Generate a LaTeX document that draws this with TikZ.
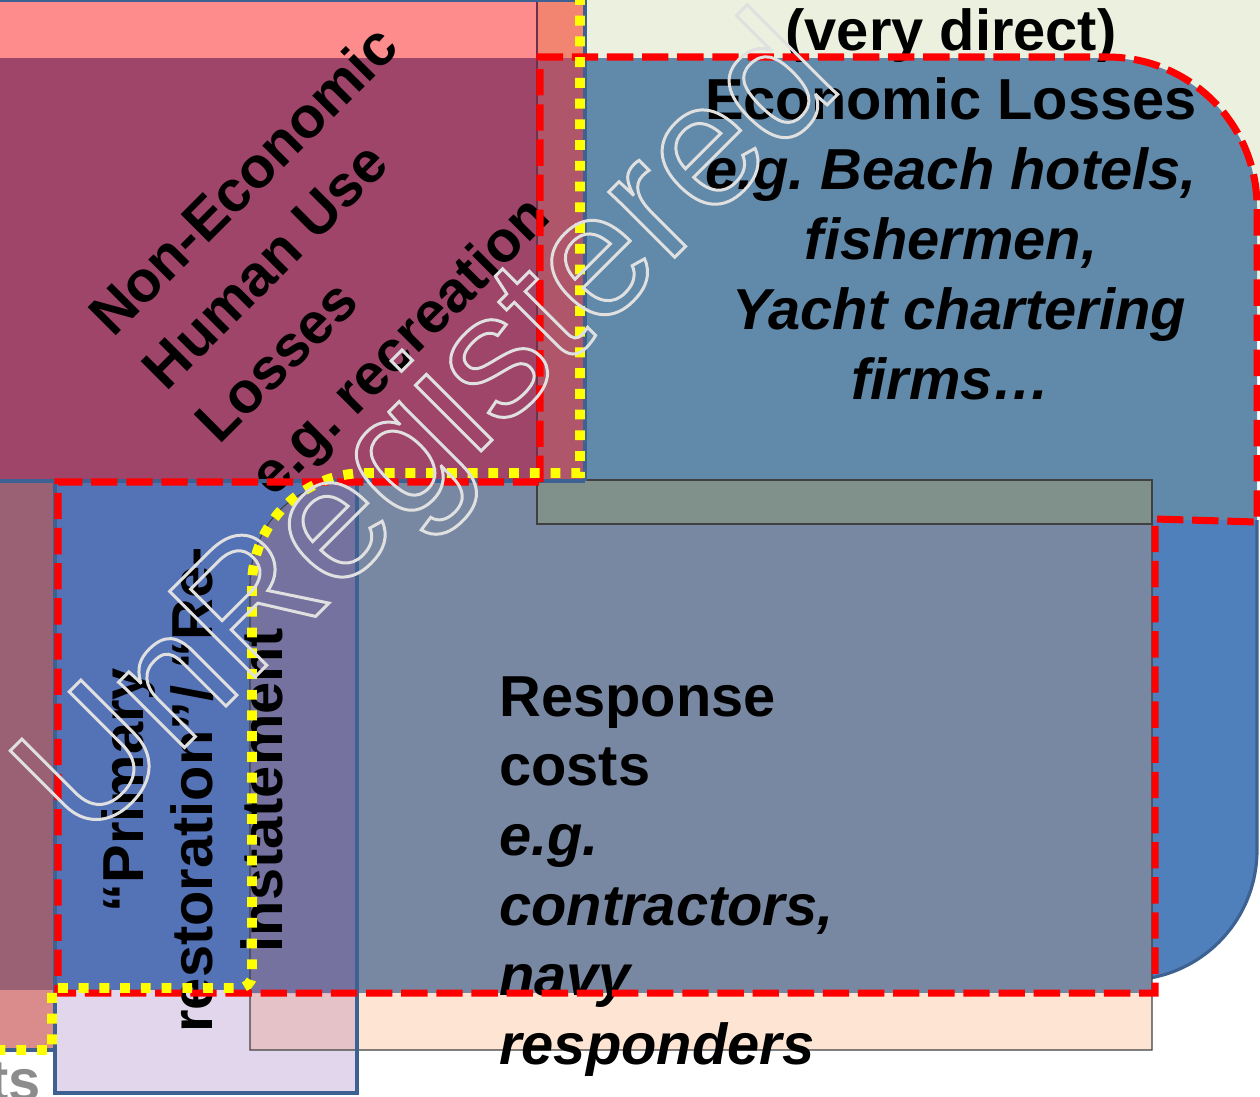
\documentclass[tikz,border=0pt]{standalone}
\usepackage{fontspec}
\setmainfont{Liberation Sans}
\frenchspacing
\usetikzlibrary{positioning}
\definecolor{palegreen}{RGB}{235,241,222}
\definecolor{pinkstrip}{RGB}{255,140,140}
\definecolor{salmonstrip}{RGB}{242,132,114}
\definecolor{maroonfill}{RGB}{158,69,105}
\definecolor{maroonlight}{RGB}{176,86,106}
\definecolor{steelfill}{RGB}{97,137,169}
\definecolor{greygreen}{RGB}{127,145,138}
\definecolor{greyblue}{RGB}{120,136,162}
\definecolor{purpleblue}{RGB}{118,114,160}
\definecolor{primblue}{RGB}{84,114,182}
\definecolor{mauvefill}{RGB}{154,96,115}
\definecolor{salmonfill}{RGB}{218,140,140}
\definecolor{peachfill}{RGB}{253,228,211}
\definecolor{rosepink}{RGB}{229,193,200}
\definecolor{lavenderfill}{RGB}{226,214,236}
\definecolor{brightblue}{RGB}{79,128,188}
\definecolor{edgeblue}{RGB}{61,97,145}
\definecolor{dashred}{RGB}{255,0,0}
\definecolor{dotyellow}{RGB}{255,255,0}

\begin{document}
\begin{tikzpicture}[x=0.02cm, y=-0.02cm,
    lbl/.style={inner sep=0pt, text=black, font=\fontsize{32.9}{39.7}\selectfont\bfseries},
    edge/.style={edgeblue, line width=2.8pt},
    thinedge/.style={black!75, line width=0.6pt},
    reddash/.style={dashred, line width=4pt, dash pattern=on 15pt off 5pt},
    yellowdot/.style={dotyellow, line width=5.6pt, dash pattern=on 5.6pt off 6.2pt}
]
    \useasboundingbox (0,0) rectangle (1260,1096);
    \clip (0,0) rectangle (1260,1096);
    % fills, back to front
    \fill[white] (0,0) rectangle (1260,1096);
    \fill[palegreen] (585,0) rectangle (1260,320);
    \fill[pinkstrip] (0,0) rectangle (537,58);
    \fill[salmonstrip] (537,0) rectangle (585,58);
    \fill[maroonfill] (0,58) rectangle (537,480);
    \fill[maroonlight] (537,58) rectangle (585,480);
    \draw[maroonfill!70!black, line width=0.6pt] (537,0) -- (537,480);
    \fill[steelfill] (585,58) -- (1107,58) .. controls (1190,58) and (1257,125) .. (1257,208)
        -- (1257,524) -- (585,524) -- cycle;
    \fill[brightblue] (1100,520) -- (1257,520) -- (1257,850)
        .. controls (1257,922) and (1199,980) .. (1127,980) -- (1100,980) -- cycle;
    \draw[edgeblue, line width=1.8pt] (1257,520) -- (1257,850)
        .. controls (1257,922) and (1199,980) .. (1127,980);
    \fill[greyblue] (357,480) rectangle (1152,993);
    \fill[peachfill] (357,993) rectangle (1152,1050);
    \fill[lavenderfill] (55,990) rectangle (357,1093);
    \fill[rosepink] (250,993) rectangle (357,1050);
    \fill[primblue] (55,480) rectangle (357,990);
    \fill[purpleblue] (357,480) -- (355,480) .. controls (295,480) and (250,525) .. (250,585)
        -- (250,993) -- (357,993) -- cycle;
    \draw[thinedge] (250,1050) -- (250,585) .. controls (250,525) and (295,480) .. (355,480)
        -- (1152,480) -- (1152,1050) -- cycle;
    \fill[greygreen] (537,480) rectangle (1152,524);
    \draw[thinedge] (537,480) rectangle (1152,524);
    \fill[mauvefill] (0,480) rectangle (55,990);
    \fill[salmonfill] (0,990) rectangle (55,1050);

    % labels
    \node[lbl, rotate=45, align=left, anchor=north west,
          font=\fontsize{32.9}{43}\selectfont\bfseries] (noneco) at (83,309)
        {Non-Economic\\Human Use\\Losses\\e.g. recreation};
    \node[lbl, align=center, anchor=north] (econ) at (951,8)
        {(very direct)\\Economic Losses\\\textit{e.g. Beach hotels,}\\\textit{fishermen,}\\\textit{\ Yacht chartering}\\\textit{firms…}};
    \node[lbl, align=left, anchor=north west] (resp) at (499,676)
        {Response\\costs\\\textit{e.g.}\\\textit{contractors,}\\\textit{navy}\\\textit{responders}};
    \node[lbl, rotate=90, align=center, anchor=north] (prim) at (101,790)
        {“Primary\\restoration”/ “Re-\\instatement};
    \node[lbl, text=black!45, anchor=base east] (cut) at (41,1100) {ts};

    % outlines
    \draw[edge] (0,0) -- (585,0) -- (585,481);
    \draw[edge] (0,481) -- (585,481);
    \draw[edge] (55,480) -- (55,1093) -- (357,1093) -- (357,480);
    \draw[edge] (0,1050) -- (55,1050);
    \draw[reddash] (540,482) -- (540,57) -- (1107,57) .. controls (1190,57) and (1257,124) .. (1257,207)
        -- (1257,522) -- (1155,519) -- (1155,993) -- (58,993) -- (58,482) -- cycle;
    \draw[yellowdot] (580,-5) -- (580,473) -- (365,473) .. controls (303,473) and (252,523) .. (252,585)
        -- (252,975) .. controls (252,983) and (246,988) .. (238,988) -- (52,988) -- (52,1050) -- (-5,1050);

    % watermark
    \node[rotate=45, anchor=base, inner sep=0pt, text=white!88!black,
          font=\fontsize{100}{100}\selectfont] (mark) at (466,466)
        {\special{pdf:literal direct 1 Tr 1.7 w}UnRegistered\special{pdf:literal direct 0 Tr}};
\end{tikzpicture}
\end{document}
